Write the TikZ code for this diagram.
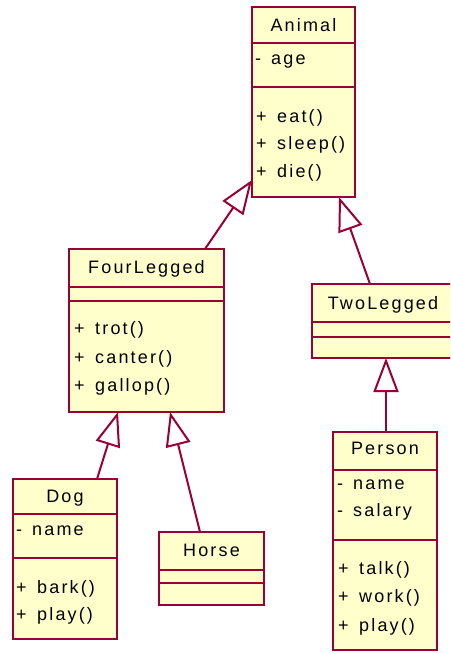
\documentclass[tikz,border=0pt]{standalone}
\usepackage{fontspec}
\setmainfont{Liberation Sans}[LetterSpace=12]
\usetikzlibrary{arrows.meta,fit}
\definecolor{umlline}{HTML}{990033}
\definecolor{umlfill}{HTML}{FFFFCC}
\tikzset{
  classbox/.style={draw=umlline, fill=umlfill, line width=1.3pt, rectangle, inner sep=0pt, outer sep=0pt},
  sepline/.style={draw=umlline, line width=1.3pt},
  heavyline/.style={draw=umlline, line width=2.6pt},
  cname/.style={font=\fontsize{18}{20}\selectfont, inner sep=0pt, text height=13pt, text depth=0pt, anchor=center},
  member/.style={font=\fontsize{18}{20}\selectfont, inner sep=0pt, text height=13pt, text depth=4pt, anchor=west},
  gen/.style={draw=umlline, line width=2pt, -{Triangle[open, length=34pt, width=25pt, fill=white]}},
}
\newcommand{\attr}[1]{\makebox[16pt][l]{-}#1}
\newcommand{\meth}[1]{\makebox[21pt][l]{+}#1}
\begin{document}
\begin{tikzpicture}[x=1pt,y=-1pt]
\clip (0,0) rectangle (450,653);
\fill[white] (0,0) rectangle (450,653);

% Animal
\coordinate (an-nw) at (252,7); \coordinate (an-se) at (355,197);
\node[classbox, fit=(an-nw)(an-se)] (animal) {};
\draw[sepline] (252,43) -- (355,43);
\draw[heavyline] (252,87) -- (355,87);
\draw[heavyline] (252,197) -- (355,197);
\node[cname] (animal-name) at (303.5,25) {Animal};
\node[member] (animal-age) at (255,60) {\attr{age}};
\node[member] (animal-eat) at (256,118) {\meth{eat()}};
\node[member] (animal-sleep) at (256,145) {\meth{sleep()}};
\node[member] (animal-die) at (256,173) {\meth{die()}};

% FourLegged
\coordinate (fl-nw) at (69,249); \coordinate (fl-se) at (224,412);
\node[classbox, fit=(fl-nw)(fl-se)] (fourlegged) {};
\draw[sepline] (69,287) -- (224,287);
\draw[heavyline] (69,301) -- (224,301);
\draw[heavyline] (69,412) -- (224,412);
\node[cname] (fl-name) at (146.5,267) {FourLegged};
\node[member] (fl-trot) at (74,330) {\meth{trot()}};
\node[member] (fl-canter) at (74,359) {\meth{canter()}};
\node[member] (fl-gallop) at (74,387) {\meth{gallop()}};

% TwoLegged
\coordinate (tl-nw) at (312,284); \coordinate (tl-se) at (460,358);
\node[classbox, fit=(tl-nw)(tl-se)] (twolegged) {};
\draw[sepline] (312,322) -- (460,322);
\draw[sepline] (312,337) -- (460,337);
\draw[heavyline] (312,358) -- (460,358);
\node[cname] (tl-name) at (383,303) {TwoLegged};

% Person
\coordinate (pe-nw) at (333,432); \coordinate (pe-se) at (437,650);
\node[classbox, fit=(pe-nw)(pe-se)] (person) {};
\draw[heavyline] (333,470) -- (437,470);
\draw[sepline] (333,540) -- (437,540);
\draw[heavyline] (333,650) -- (437,650);
\node[cname] (pe-name) at (385,448) {Person};
\node[member] (pe-name-attr) at (337,485) {\attr{name}};
\node[member] (pe-salary) at (337,512) {\attr{salary}};
\node[member] (pe-talk) at (338,570) {\meth{talk()}};
\node[member] (pe-work) at (338,598) {\meth{work()}};
\node[member] (pe-play) at (338,627) {\meth{play()}};

% Dog
\coordinate (dg-nw) at (13,479); \coordinate (dg-se) at (117,639);
\node[classbox, fit=(dg-nw)(dg-se)] (dog) {};
\draw[sepline] (13,514) -- (117,514);
\draw[sepline] (13,558) -- (117,558);
\draw[heavyline] (13,639) -- (117,639);
\node[cname] (dg-name) at (65,496) {Dog};
\node[member] (dg-name-attr) at (16,531) {\attr{name}};
\node[member] (dg-bark) at (16,589) {\meth{bark()}};
\node[member] (dg-play) at (16,616) {\meth{play()}};

% Horse
\coordinate (ho-nw) at (159,532); \coordinate (ho-se) at (264,605);
\node[classbox, fit=(ho-nw)(ho-se)] (horse) {};
\draw[sepline] (159,570) -- (264,570);
\draw[heavyline] (159,583) -- (264,583);
\node[cname] (ho-name) at (211.5,550) {Horse};

% generalisation connectors
\coordinate (fl-up) at (205,249);  \coordinate (an-left) at (252,180);
\coordinate (tl-up) at (370,284);  \coordinate (an-right) at (339,197);
\coordinate (pe-up) at (386,432);  \coordinate (tl-down) at (386,358);
\coordinate (dg-up) at (97,479);   \coordinate (fl-down1) at (118,412);
\coordinate (ho-up) at (200,532);  \coordinate (fl-down2) at (170,412);
\draw[gen] (fl-up) -- (an-left);
\draw[gen] (tl-up) -- (an-right);
\draw[gen] (pe-up) -- (tl-down);
\draw[gen] (dg-up) -- (fl-down1);
\draw[gen] (ho-up) -- (fl-down2);
\end{tikzpicture}
\end{document}
